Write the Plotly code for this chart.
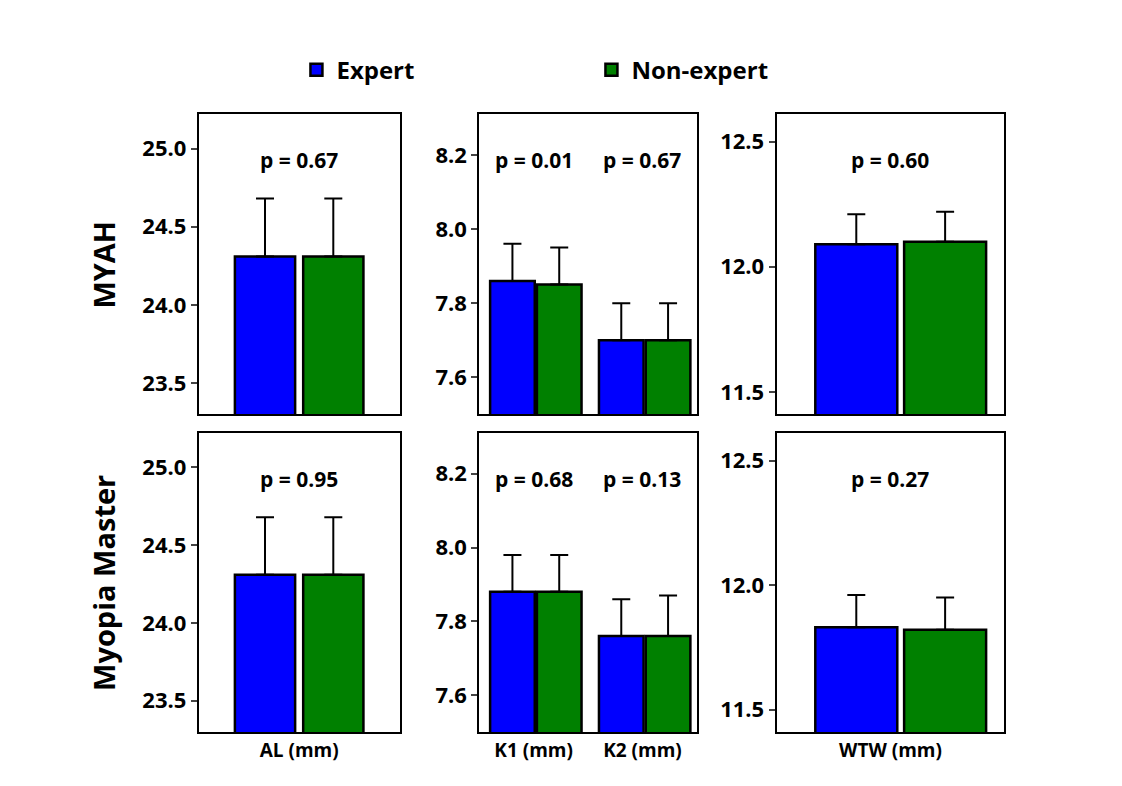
import plotly.graph_objects as go

# values
rows = ["MYAH", "Myopia Master"]
panels = [["AL (mm)"], ["K1 (mm)", "K2 (mm)"], ["WTW (mm)"]]

expert_mean = {
    "MYAH": [[24.31], [7.86, 7.70], [12.09]],
    "Myopia Master": [[24.31], [7.88, 7.76], [11.83]],
}
expert_sd = {
    "MYAH": [[0.37], [0.10, 0.10], [0.12]],
    "Myopia Master": [[0.37], [0.10, 0.10], [0.13]],
}
nonexpert_mean = {
    "MYAH": [[24.31], [7.85, 7.70], [12.10]],
    "Myopia Master": [[24.31], [7.88, 7.76], [11.82]],
}
nonexpert_sd = {
    "MYAH": [[0.37], [0.10, 0.10], [0.12]],
    "Myopia Master": [[0.37], [0.10, 0.11], [0.13]],
}
p_values = {
    "MYAH": [["0.67"], ["0.01", "0.67"], ["0.60"]],
    "Myopia Master": [["0.95"], ["0.68", "0.13"], ["0.27"]],
}

y_ranges = [[23.3, 25.22], [7.5, 8.31], [11.41, 12.61]]
y_ticks = [[23.5, 24.0, 24.5, 25.0], [7.6, 7.8, 8.0, 8.2], [11.5, 12.0, 12.5]]

x_domains = [[0.170, 0.349], [0.420, 0.614], [0.685, 0.888]]
y_domains = [[0.483, 0.865], [0.079, 0.459]]
bar_style = [  # width, expert offset, non-expert offset
    (0.30, -0.32, 0.02),
    (0.41, -0.40, 0.03),
    (0.36, -0.33, 0.06),
]

BLUE = "#0000FF"
GREEN = "#008000"
FONT = "Open Sans, Liberation Sans, sans-serif"

fig = go.Figure()
layout = {}
annotations = []

for r, row in enumerate(rows):
    for c, cats in enumerate(panels):
        n = r * 3 + c + 1
        xa = "x" if n == 1 else f"x{n}"
        ya = "y" if n == 1 else f"y{n}"
        w, off_e, off_n = bar_style[c]
        for name, mean, sd, color, off in [
            ("Expert", expert_mean, expert_sd, BLUE, off_e),
            ("Non-expert", nonexpert_mean, nonexpert_sd, GREEN, off_n),
        ]:
            fig.add_trace(go.Bar(
                x=cats, y=mean[row][c], name=f"<b>{name}</b>",
                width=w, offset=off,
                marker=dict(color=color, line=dict(color="black", width=2.5)),
                error_y=dict(type="data", array=sd[row][c], symmetric=False,
                             arrayminus=[0] * len(cats), color="black",
                             thickness=2, width=9),
                showlegend=(n == 1), xaxis=xa, yaxis=ya,
            ))
        layout[xa.replace("x", "xaxis")] = dict(
            domain=x_domains[c], anchor=ya, type="category",
            range=[-0.5, len(cats) - 0.5],
            tickvals=cats, ticktext=[f"<b>{t}</b>" for t in cats],
            showline=True, mirror=True, linecolor="black", linewidth=2,
            ticks="", showticklabels=(r == 1),
            tickfont=dict(size=19, family=FONT, color="black"),
            showgrid=False, fixedrange=True, automargin=False,
        )
        layout[ya.replace("y", "yaxis")] = dict(
            domain=y_domains[r], anchor=xa, range=y_ranges[c],
            tickvals=y_ticks[c], ticktext=[f"<b>{t:.1f}</b>" for t in y_ticks[c]],
            showline=True, mirror=True, linecolor="black", linewidth=2,
            ticks="outside", ticklen=6, tickwidth=2,
            tickfont=dict(size=22, family=FONT, color="black"),
            showgrid=False, zeroline=False, automargin=False,
        )
        for i, cat in enumerate(cats):
            annotations.append(dict(
                x=cat, y=0.9, xref=xa, yref=f"{ya} domain",
                text=f"<b>p = {p_values[row][c][i]}</b>", showarrow=False,
                font=dict(size=21, family=FONT, color="black"),
            ))

for r, row in enumerate(rows):
    annotations.append(dict(
        x=0.085, y=sum(y_domains[r]) / 2, xref="paper", yref="paper",
        xanchor="center", yanchor="middle",
        text=f"<b>{row}</b>", textangle=-90, showarrow=False,
        font=dict(size=29, family=FONT, color="black"),
    ))

fig.update_layout(
    **layout,
    annotations=annotations,
    barmode="overlay",
    width=1122, height=786,
    margin=dict(l=0, r=0, t=0, b=0, autoexpand=False),
    plot_bgcolor="white", paper_bgcolor="white",
    font=dict(family=FONT, color="black"),
    legend=dict(orientation="h", x=0.52, y=0.921, xanchor="center",
                yanchor="middle", font=dict(size=24, family=FONT),
                entrywidth=250, traceorder="normal"),
)

fig.write_html("out.html")
